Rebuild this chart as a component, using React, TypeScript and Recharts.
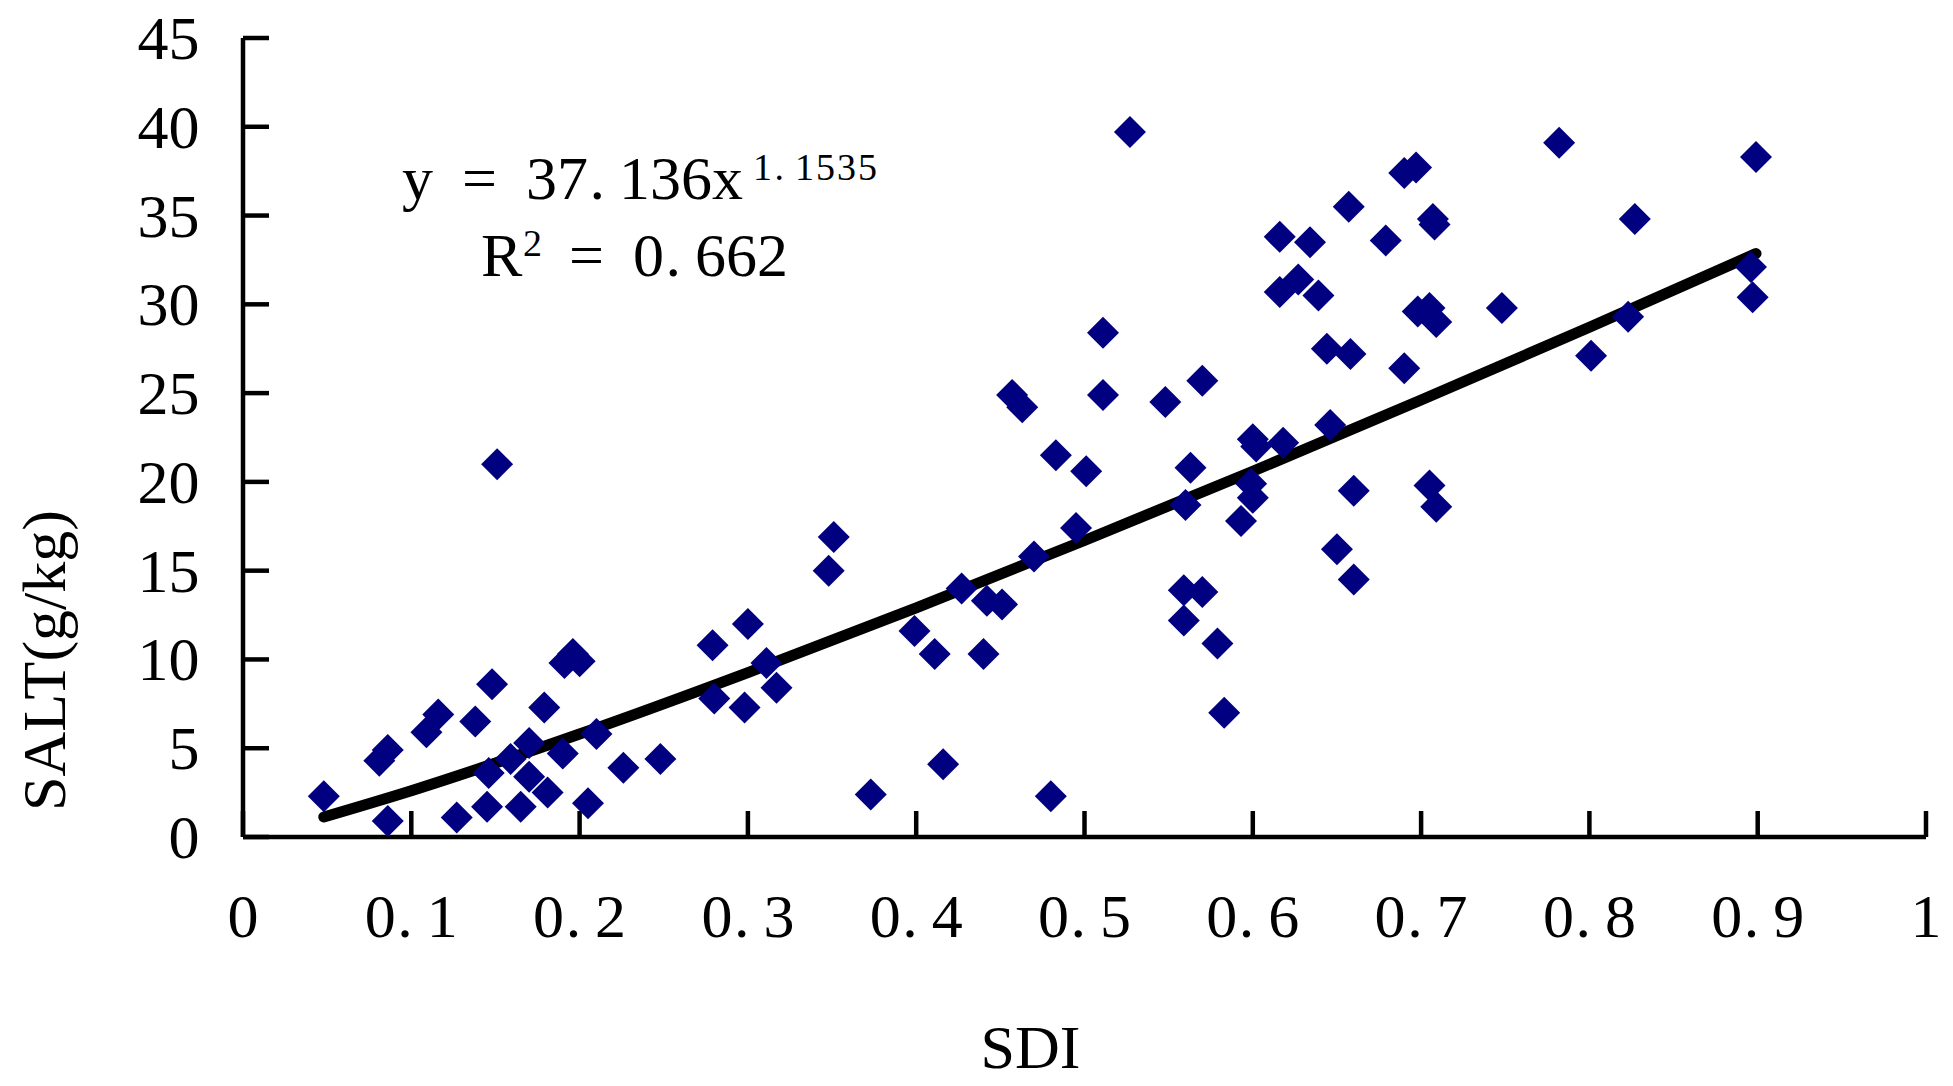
import React from 'react';
import { ComposedChart, Scatter, Line, XAxis, YAxis } from 'recharts';

// SDI values (x) of the observed samples
const sdi = [
  0.048, 0.086, 0.081, 0.086, 0.109, 0.116, 0.148, 0.138, 0.127, 0.145,
  0.146, 0.159, 0.165, 0.170, 0.170, 0.179, 0.181, 0.190, 0.191, 0.196,
  0.200, 0.210, 0.205, 0.226, 0.248, 0.151, 0.279, 0.300, 0.311, 0.280,
  0.298, 0.317, 0.348, 0.351, 0.373, 0.399, 0.411, 0.440, 0.416, 0.427,
  0.442, 0.451, 0.470, 0.480, 0.495, 0.483, 0.501, 0.457, 0.463, 0.527,
  0.511, 0.511, 0.548, 0.570, 0.563, 0.600, 0.602, 0.618, 0.646, 0.616,
  0.634, 0.657, 0.690, 0.697, 0.707, 0.708, 0.679, 0.616, 0.627, 0.639,
  0.644, 0.658, 0.690, 0.698, 0.705, 0.709, 0.748, 0.560, 0.599, 0.600,
  0.593, 0.660, 0.705, 0.709, 0.650, 0.660, 0.559, 0.570, 0.559, 0.579,
  0.583, 0.782, 0.899, 0.827, 0.823, 0.801, 0.896, 0.897,
];

// SALT values (y, g/kg) of the observed samples
const salt = [
  2.3, 0.9, 4.3, 4.9, 5.9, 6.9, 8.6, 6.5, 1.1, 1.7,
  3.6, 4.4, 1.7, 3.4, 5.3, 7.3, 2.5, 4.7, 9.8, 10.3,
  9.9, 5.8, 1.9, 3.9, 4.4, 21.0, 10.8, 12.0, 9.8, 7.8,
  7.3, 8.4, 15.0, 16.9, 2.4, 11.6, 10.3, 10.3, 4.1, 14.0,
  13.3, 13.1, 15.8, 2.3, 17.4, 21.5, 20.6, 24.9, 24.2, 39.7,
  28.4, 24.9, 24.5, 25.7, 20.8, 22.4, 22.0, 22.2, 23.2, 33.8,
  33.5, 35.5, 37.4, 37.7, 34.8, 34.5, 33.6, 30.7, 31.4, 30.5,
  27.5, 27.2, 26.4, 29.6, 29.8, 29.0, 29.8, 18.7, 19.9, 19.1,
  17.8, 19.5, 19.8, 18.6, 16.2, 14.5, 13.9, 13.8, 12.2, 10.9,
  7.0, 39.1, 38.3, 34.8, 29.3, 27.1, 32.1, 30.4,
];

// Power trend line (y = 37.136x^1.1535)
const trendSdi = [0.048, 0.1, 0.2, 0.3, 0.4, 0.5, 0.6, 0.7, 0.8, 0.899];
const trendSalt = [1.13, 2.61, 5.8, 9.26, 12.9, 16.7, 20.6, 24.61, 28.71, 32.86];

const xTicks = [0, 0.1, 0.2, 0.3, 0.4, 0.5, 0.6, 0.7, 0.8, 0.9, 1];
const yTicks = [0, 5, 10, 15, 20, 25, 30, 35, 40, 45];

const xTitle = 'SDI';
const yTitle = 'SALT(g/kg)';
const eqMain = 'y = 37.136x';
const eqExp = '1.1535';
const r2Label = 'R';
const r2Sup = '2';
const r2Value = ' = 0.662';

const points = sdi.map((x, i) => ({ x, y: salt[i] }));
const trend = trendSdi.map((x, i) => ({ x, y: trendSalt[i] }));

const FONT = '"Liberation Serif", "DejaVu Serif", serif';
const CELL = 31;
const FS = 62;
const NAVY = '#000080';

function cells(str: string, left: number, baseline: number, cell: number, fontSize: number, key?: string) {
  const chars = str.split('');
  return (
    <text key={key} y={baseline} fontFamily={FONT} fontSize={fontSize} fill="#000" textAnchor="middle">
      {chars.map((c, i) => (
        <tspan key={i} x={left + (i + 0.5) * cell + (c === '.' ? -0.2 * cell : 0)} y={baseline}>
          {c}
        </tspan>
      ))}
    </text>
  );
}

const XTick = (props: any) => {
  const { x, payload } = props;
  const s = String(payload.value);
  return <g>{cells(s, x - (s.length * CELL) / 2, 937, CELL, FS)}</g>;
};

const YTick = (props: any) => {
  const { y, payload } = props;
  const s = String(payload.value);
  return <g>{cells(s, 199.5 - s.length * CELL, y + 21, CELL, FS)}</g>;
};

const Diamond = (props: any) => {
  const { cx, cy } = props;
  if (cx == null || cy == null) return null;
  const r = 16;
  return (
    <polygon
      points={`${cx},${cy - r} ${cx + r},${cy} ${cx},${cy + r} ${cx - r},${cy}`}
      fill={NAVY}
    />
  );
};

export default function App() {
  return (
    <div style={{ position: 'absolute', left: 0, top: 0, width: 1953, height: 1086, background: '#fff' }}>
      <ComposedChart width={1953} height={1086} margin={{ top: 38, right: 27, bottom: 0, left: 0 }}>
        <XAxis
          type="number"
          dataKey="x"
          domain={[0, 1]}
          ticks={xTicks}
          interval={0}
          height={249}
          tickSize={-26}
          axisLine={{ stroke: '#000', strokeWidth: 4.5 }}
          tickLine={{ stroke: '#000', strokeWidth: 4.5 }}
          tick={XTick}
        />
        <YAxis
          type="number"
          dataKey="y"
          domain={[0, 45]}
          ticks={yTicks}
          interval={0}
          width={243}
          tickSize={-26}
          axisLine={{ stroke: '#000', strokeWidth: 4.5 }}
          tickLine={{ stroke: '#000', strokeWidth: 4.5 }}
          tick={YTick}
        />
        <Scatter data={points} fill={NAVY} shape={Diamond} isAnimationActive={false} />
        <Line
          data={trend}
          dataKey="y"
          type="monotone"
          stroke="#000"
          strokeWidth={11}
          strokeLinecap="round"
          dot={false}
          activeDot={false}
          isAnimationActive={false}
        />
      </ComposedChart>
      <svg
        width={1953}
        height={1086}
        style={{ position: 'absolute', left: 0, top: 0, pointerEvents: 'none' }}
      >
        {cells(eqMain, 402, 199, CELL, FS, 'eq')}
        {cells(eqExp, 752, 180, 21, 38, 'exp')}
        <text x={481} y={276} fontFamily={FONT} fontSize={FS} fill="#000">
          {r2Label}
        </text>
        <text x={523} y={256} fontFamily={FONT} fontSize={38} fill="#000">
          {r2Sup}
        </text>
        {cells(r2Value, 540, 276, CELL, FS, 'rv')}
        <text x={1030.5} y={1068} fontFamily={FONT} fontSize={FS} fill="#000" textAnchor="middle">
          {xTitle}
        </text>
        <text
          transform="translate(65, 660.5) rotate(-90)"
          x={0}
          y={0}
          fontFamily={FONT}
          fontSize={FS}
          fill="#000"
          textAnchor="middle"
        >
          {yTitle}
        </text>
      </svg>
    </div>
  );
}
